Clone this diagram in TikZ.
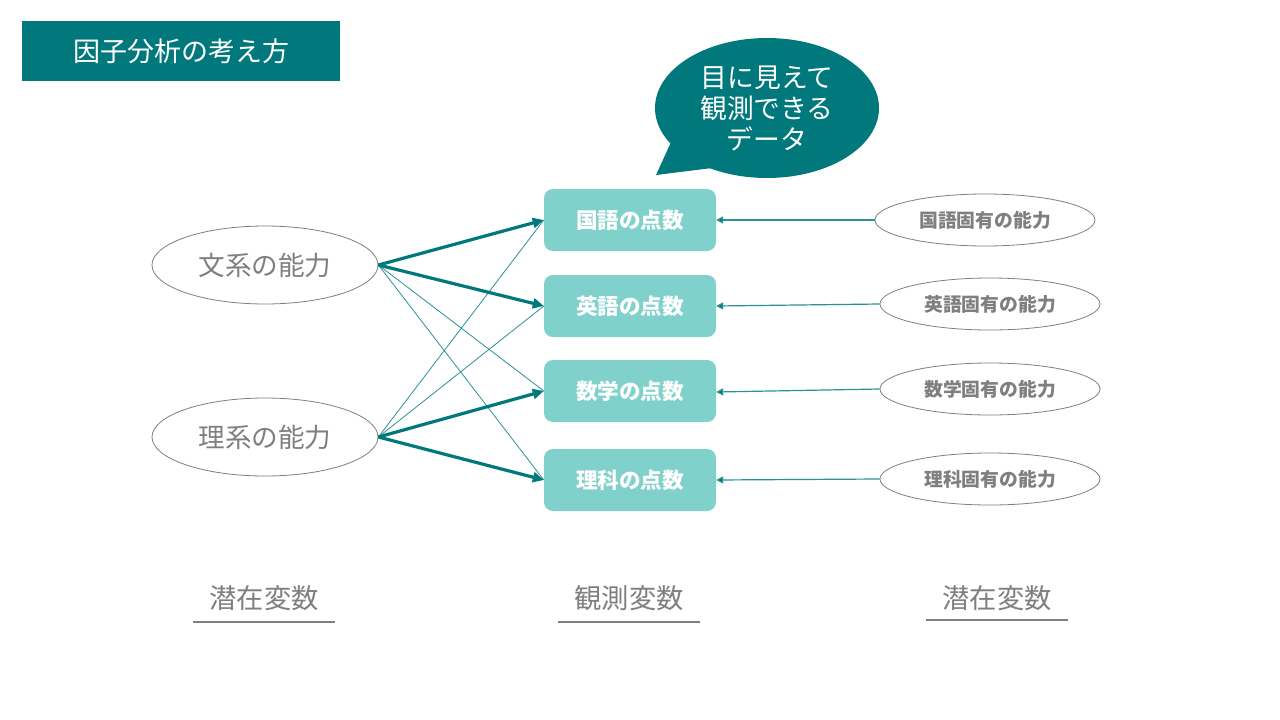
\documentclass[tikz,border=0pt]{standalone}
\usepackage{fontspec}
\setmainfont{Noto Sans CJK JP}
\usetikzlibrary{arrows.meta,shapes.geometric}
\definecolor{teal1}{HTML}{00787C}
\definecolor{teal2}{HTML}{80D1CB}
\definecolor{thin1}{HTML}{2A9296}
\definecolor{gray1}{HTML}{7F7F7F}
\begin{document}
\begin{tikzpicture}[x=1pt,y=-1pt,
  obs/.style={fill=teal2,rounded corners=9pt,minimum width=172pt,minimum height=62pt,inner sep=0pt,text=white,font=\fontsize{21.6}{23}\selectfont\bfseries},
  latL/.style={ellipse,draw=gray1,line width=0.8pt,minimum width=226pt,minimum height=78pt,inner sep=0pt,text=gray1,font=\fontsize{26.6}{28}\selectfont},
  latR/.style={ellipse,draw=gray1,line width=0.8pt,minimum width=220pt,minimum height=52pt,inner sep=0pt,text=gray1,font=\fontsize{18.8}{20}\selectfont\bfseries},
  thick arr/.style={draw=teal1,line width=3.2pt,-{Triangle[length=11pt,width=10pt]}},
  thin line/.style={draw=thin1,line width=0.8pt},
  small arr/.style={draw=thin1,line width=1.2pt,-{Triangle[length=7pt,width=7pt,fill=teal1]}},
  bottom/.style={text=gray1,font=\fontsize{27.3}{29}\selectfont},
  uline/.style={draw=gray1,line width=2pt}
]
\useasboundingbox (0,0) rectangle (1280,720);
\fill[white] (0,0) rectangle (1280,720);
% title
\node[fill=teal1,minimum width=318pt,minimum height=60pt,inner sep=0pt,text=white,font=\fontsize{27}{29}\selectfont] (title) at (181,51) {因子分析の考え方};
% speech bubble
\fill[teal1] (767,108) ellipse [x radius=112, y radius=70];
\fill[teal1] (672,140) -- (656,175) -- (712,168) -- cycle;
\node[text=white,align=center,font=\fontsize{26.8}{31}\selectfont] (bubble) at (767,108) {目に見えて\\観測できる\\データ};
% observed boxes
\node[obs] (kokugo) at (630,220) {国語の点数};
\node[obs] (eigo) at (630,306) {英語の点数};
\node[obs] (sugaku) at (630,391) {数学の点数};
\node[obs] (rika) at (630,480) {理科の点数};
% left latent
\node[latL] (bunkei) at (265,265) {文系の能力};
\node[latL] (rikei) at (265,437) {理系の能力};
% right latent
\node[latR] (uk) at (985,220) {国語固有の能力};
\node[latR] (ue) at (990,304) {英語固有の能力};
\node[latR] (us) at (990,389) {数学固有の能力};
\node[latR] (ur) at (990,479) {理科固有の能力};
% thin lines
\draw[thin line] (bunkei.east) -- (sugaku.west);
\draw[thin line] (bunkei.east) -- (rika.west);
\draw[thin line] (rikei.east) -- (kokugo.west);
\draw[thin line] (rikei.east) -- (eigo.west);
% thick arrows
\draw[thick arr] (bunkei.east) -- (kokugo.west);
\draw[thick arr] (bunkei.east) -- (eigo.west);
\draw[thick arr] (rikei.east) -- (sugaku.west);
\draw[thick arr] (rikei.east) -- (rika.west);
% right arrows
\draw[small arr] (uk.west) -- (kokugo.east);
\draw[small arr] (ue.west) -- (eigo.east |- 0,306);
\draw[small arr] (us.west) -- (sugaku.east |- 0,392);
\draw[small arr] (ur.west) -- (rika.east);
% bottom labels
\node[bottom] (b1) at (264,598) {潜在変数};
\node[bottom] (b2) at (629,598) {観測変数};
\node[bottom] (b3) at (997,598) {潜在変数};
\coordinate (l1a) at (193,622); \coordinate (l1b) at (335,622);
\coordinate (l2a) at (558,622); \coordinate (l2b) at (700,622);
\coordinate (l3a) at (926,620); \coordinate (l3b) at (1068,620);
\draw[uline] (l1a) -- (l1b);
\draw[uline] (l2a) -- (l2b);
\draw[uline] (l3a) -- (l3b);
\end{tikzpicture}
\end{document}
